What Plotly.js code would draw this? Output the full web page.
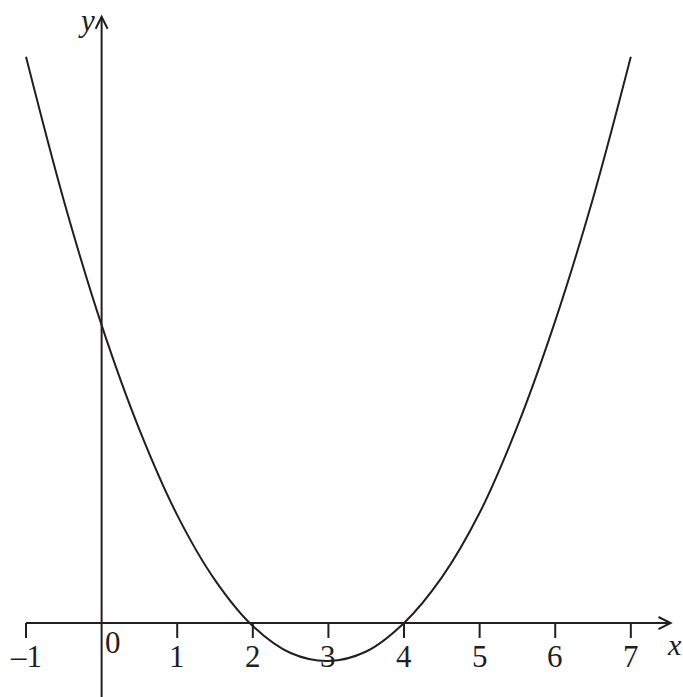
<!DOCTYPE html>
<html>
<head>
<meta charset="utf-8">
<script src="https://cdn.plot.ly/plotly-3.0.1.min.js"></script>
<style>
  html, body { margin: 0; padding: 0; background: white; }
  #graph-container { width: 683px; height: 697px; }
</style>
</head>
<body>
<div id="graph-container"></div>
<script>
// curve points
const curveX = [-1, -0.5, 0, 0.5, 1, 1.5, 2, 2.5, 3, 3.5, 4, 4.5, 5, 5.5, 6, 6.5, 7];
const curveY = [14.9, 11.12, 7.84, 5.09, 2.84, 1.13, -0.08, -0.79, -1.0, -0.75, 0, 1.2, 2.9, 5.18, 7.95, 11.18, 14.9];

// x axis ticks and labels
const tickVals = [-1, 1, 2, 3, 4, 5, 6, 7];
const tickLabels = ['\u20131', '1', '2', '3', '4', '5', '6', '7'];
const originLabel = '0';

const INK = '#231f20';
const FONT = 'Liberation Serif, Times New Roman, serif';

const xRange = [-1.344, 7.690];
const yRange = [-1.947, 16.395];
const xEnd = 7.525;   // x axis arrow tip
const yEnd = 15.955;  // y axis arrow tip
const tickLen = 0.395;

const shapes = [];

// x axis + arrowhead
shapes.push({ type: 'line', xref: 'x', yref: 'y', x0: tickVals[0], y0: 0, x1: xEnd, y1: 0,
    line: { color: INK, width: 2 } });
shapes.push({ type: 'path', xref: 'x', yref: 'y',
    path: `M ${xEnd - 0.159},0.158 L ${xEnd},0 L ${xEnd - 0.159},-0.158`,
    line: { color: INK, width: 2 } });

// y axis + arrowhead
shapes.push({ type: 'line', xref: 'x', yref: 'y', x0: 0, y0: yRange[0], x1: 0, y1: yEnd,
    line: { color: INK, width: 2 } });
shapes.push({ type: 'path', xref: 'x', yref: 'y',
    path: `M -0.079,${yEnd - 0.316} L 0,${yEnd} L 0.079,${yEnd - 0.316}`,
    line: { color: INK, width: 2 } });

// tick marks hang below the axis
tickVals.forEach(v => {
    shapes.push({ type: 'line', xref: 'x', yref: 'y', x0: v, y0: 0, x1: v, y1: -tickLen,
        line: { color: INK, width: 2 } });
});

const annotations = tickVals.map((v, i) => ({
    x: v, y: -0.87, xref: 'x', yref: 'y',
    text: tickLabels[i], showarrow: false,
    xanchor: 'center', yanchor: 'middle',
    font: { family: FONT, size: 31, color: INK }
}));

annotations.push({
    x: 0.157, y: -0.5, xref: 'x', yref: 'y', text: originLabel, showarrow: false,
    xanchor: 'center', yanchor: 'middle', font: { family: FONT, size: 31, color: INK }
});
// axis names; x sits right against the page edge as in the original
annotations.push({
    x: 1, y: -0.56, xref: 'paper', yref: 'y', text: '<i>x</i>', showarrow: false,
    xanchor: 'right', yanchor: 'middle', borderpad: 0,
    font: { family: FONT, size: 30, color: INK }
});
annotations.push({
    x: -0.2, y: 15.86, xref: 'x', yref: 'y', text: '<i>y</i>', showarrow: false,
    xanchor: 'center', yanchor: 'middle', font: { family: FONT, size: 31, color: INK }
});

const traces = [{
    x: curveX,
    y: curveY,
    type: 'scatter',
    mode: 'lines',
    line: { color: INK, width: 2, shape: 'spline', smoothing: 1 },
    hoverinfo: 'skip'
}];

const layout = {
    width: 683,
    height: 697,
    margin: { t: 0, b: 0, l: 0, r: 0 },
    showlegend: false,
    plot_bgcolor: 'white',
    paper_bgcolor: 'white',
    xaxis: { range: xRange, visible: false, fixedrange: true },
    yaxis: { range: yRange, visible: false, fixedrange: true },
    shapes: shapes,
    annotations: annotations
};

Plotly.newPlot('graph-container', traces, layout, { displayModeBar: false, staticPlot: true });
</script>
</body>
</html>
